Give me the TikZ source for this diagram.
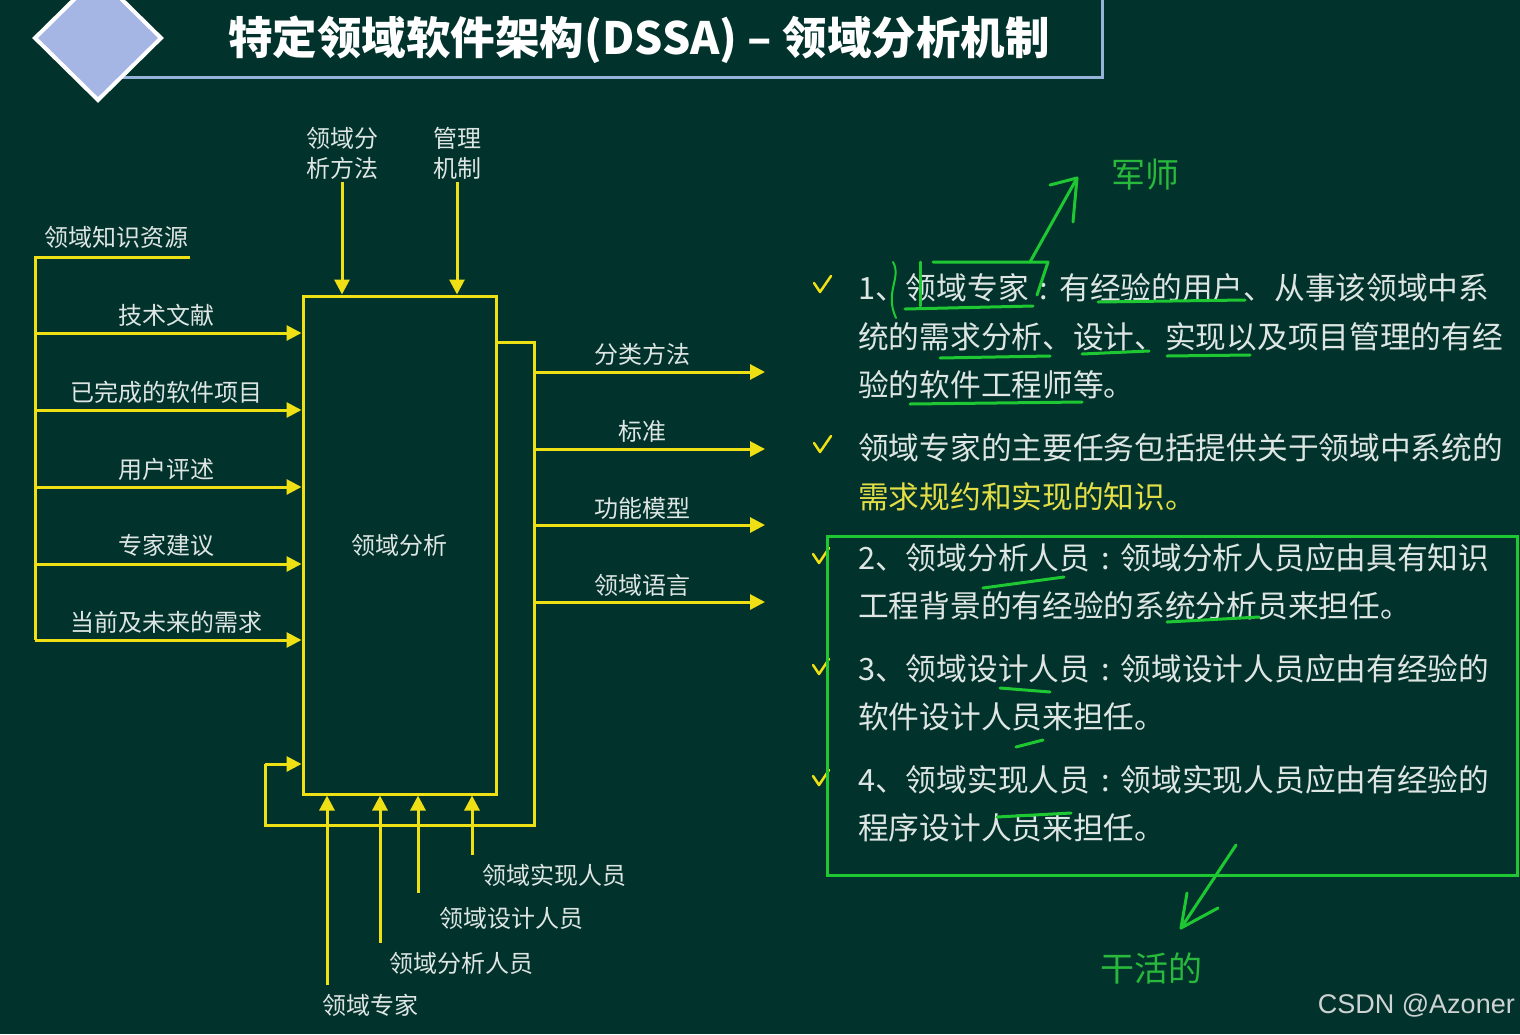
\documentclass[tikz,border=0pt]{standalone}
\usepackage{fontspec}
\newfontfamily\cjk{Noto Sans CJK SC}
\newfontfamily\wmfont{Liberation Sans}
\usetikzlibrary{arrows.meta}
\definecolor{bg}{RGB}{2,50,44}
\definecolor{ylw}{RGB}{238,224,20}
\definecolor{lbl}{RGB}{222,230,228}
\definecolor{grn}{RGB}{30,200,50}
\definecolor{grntxt}{RGB}{40,185,60}
\definecolor{dia}{RGB}{165,182,228}
\definecolor{ban}{RGB}{150,180,215}
\definecolor{hl}{RGB}{228,222,70}
\definecolor{wm}{RGB}{205,210,210}
\newcommand{\cc}{\makebox[1em]{:}}
\tikzset{
  flow/.style={ylw, line width=3pt, -{Triangle[length=15pt,width=15pt]}},
  wire/.style={ylw, line width=3pt},
  lab/.style={text=lbl, font=\cjk\fontsize{24}{30}\selectfont, inner sep=0pt},
  body/.style={text=lbl, font=\cjk\fontsize{30.7}{36}\selectfont, anchor=west, inner sep=0pt},
  pen/.style={grn, line width=3pt, line cap=round, line join=round},
  tick/.style={ylw, line width=2.5pt, line cap=round, line join=round},
  note/.style={text=grntxt, font=\cjk\fontsize{34}{40}\selectfont, inner sep=0pt}
}
\begin{document}
\begin{tikzpicture}[x=1pt,y=-1pt]
\useasboundingbox (0,0) rectangle (1520,1034);
\clip (0,0) rectangle (1520,1034);
\fill[bg] (0,0) rectangle (1520,1034);

% title banner
\draw[ban, line width=3pt] (110,-10) rectangle (1102,77);
\filldraw[fill=dia, draw=white, line width=4pt, line join=miter] (35,38) -- (98,-24) -- (161,38) -- (98,100) -- cycle;
\node[text=white, font=\cjk\bfseries\fontsize{44.5}{50}\selectfont, inner sep=0pt] (title) at (639,40) {特定领域软件架构(DSSA) – 领域分析机制};

% main box
\node[draw=ylw, line width=3pt, minimum width=193pt, minimum height=498pt, inner sep=0pt, text=lbl, font=\cjk\fontsize{24}{30}\selectfont] (box) at (399.5,545) {领域分析};

% top controls
\node[lab, align=center] (m1) at (342,153) {领域分\\析方法};
\node[lab, align=center] (m2) at (457,153) {管理\\机制};
\coordinate (m1s) at (342,182);
\coordinate (m2s) at (457,182);
\draw[flow] (m1s) -- (m1s |- box.north);
\draw[flow] (m2s) -- (m2s |- box.north);

% left inputs
\node[lab] (k0) at (116,237) {领域知识资源};
\coordinate (s0) at (190,257);
\coordinate (s1) at (35,257);
\coordinate (s2) at (35,640);
\draw[wire] (s0) -- (s1) -- (s2);
\node[lab] (k1) at (166,315) {技术文献};
\node[lab] (k2) at (166,392) {已完成的软件项目};
\node[lab] (k3) at (166,469) {用户评述};
\node[lab] (k4) at (166,545) {专家建议};
\node[lab] (k5) at (166,622) {当前及未来的需求};
\coordinate (i1) at (35,333);
\coordinate (i2) at (35,410);
\coordinate (i3) at (35,487);
\coordinate (i4) at (35,564);
\coordinate (i5) at (35,640);
\foreach \c in {i1,i2,i3,i4,i5} \draw[flow] (\c) -- (\c -| box.west);

% outputs and feedback
\coordinate (f0) at (496,342);
\coordinate (f1) at (534,342);
\coordinate (f2) at (534,825);
\coordinate (f3) at (265,825);
\coordinate (f4) at (265,764);
\draw[wire] (f0 -| box.east) -- (f1) -- (f2) -- (f3) -- (f4);
\draw[flow] (f4) -- (f4 -| box.west);

\node[lab] (o1l) at (642,354) {分类方法};
\node[lab] (o2l) at (642,431) {标准};
\node[lab] (o3l) at (642,508) {功能模型};
\node[lab] (o4l) at (642,585) {领域语言};
\coordinate (o1) at (534,372); \coordinate (e1) at (765,372);
\coordinate (o2) at (534,449); \coordinate (e2) at (765,449);
\coordinate (o3) at (534,525); \coordinate (e3) at (765,525);
\coordinate (o4) at (534,602); \coordinate (e4) at (765,602);
\draw[flow] (o1) -- (e1);
\draw[flow] (o2) -- (e2);
\draw[flow] (o3) -- (e3);
\draw[flow] (o4) -- (e4);

% bottom mechanisms
\node[lab] (p1) at (370,1005) {领域专家};
\node[lab] (p2) at (461,963) {领域分析人员};
\node[lab] (p3) at (511,918) {领域设计人员};
\node[lab] (p4) at (554,875) {领域实现人员};
\coordinate (b1) at (327,985);
\coordinate (b2) at (380,943);
\coordinate (b3) at (418,893);
\coordinate (b4) at (472,855);
\foreach \c in {b1,b2,b3,b4} \draw[flow] (\c) -- (\c |- box.south);

% right-hand text
\draw[tick] (814,283) -- (820,292) -- (831,276);
\draw[tick] (814,443) -- (820,452) -- (831,436);
\draw[tick] (813,554) -- (819,563) -- (829,548);
\draw[tick] (813,665) -- (819,674) -- (829,659);
\draw[tick] (813,776) -- (819,785) -- (829,770);

\node[body] (t1) at (858,288) {1、领域专家\cc 有经验的用户、从事该领域中系};
\node[body] (t2) at (858,337) {统的需求分析、设计、实现以及项目管理的有经};
\node[body] (t3) at (858,385) {验的软件工程师等。};
\node[body] (t4) at (858,448) {领域专家的主要任务包括提供关于领域中系统的};
\node[body, text=hl] (t5) at (858,497) {需求规约和实现的知识。};
\node[body] (t6) at (858,558) {2、领域分析人员\cc 领域分析人员应由具有知识};
\node[body] (t7) at (858,606) {工程背景的有经验的系统分析员来担任。};
\node[body] (t8) at (858,669) {3、领域设计人员\cc 领域设计人员应由有经验的};
\node[body] (t9) at (858,717) {软件设计人员来担任。};
\node[body] (t10) at (858,780) {4、领域实现人员\cc 领域实现人员应由有经验的};
\node[body] (t11) at (858,828) {程序设计人员来担任。};

% green box
\draw[grn, line width=3pt] (827,536) rectangle (1517,875);

% green hand annotations
\node[note] (js) at (1145,175) {军师};
\node[note] (gh) at (1151,968) {干活的};
\coordinate (a1) at (1030,262);
\coordinate (a1t) at (1077,178);
\draw[pen] (a1) -- (a1t);
\draw[pen] (1050,185) -- (a1t) -- (1073,222);
\draw[pen] (933,262) -- (1048,262) -- (1037,295);
\draw[pen] (905,309) -- (1033,306);
\draw[pen] (920,262) -- (920,306);
\draw[pen, line width=2pt] (893,262) .. controls (902,278) and (884,292) .. (896,318);
\draw[pen] (1098,302) -- (1245,300);
\draw[pen] (940,358) -- (1050,356);
\draw[pen] (1082,354) -- (1149,351);
\draw[pen] (1167,356) -- (1250,355);
\draw[pen] (910,404) -- (1082,402);
\draw[pen] (983,588) -- (1064,577);
\draw[pen] (1167,622) -- (1259,617);
\draw[pen] (1000,688) -- (1050,692);
\draw[pen] (1016,747) -- (1043,740);
\draw[pen] (997,817) -- (1071,813);
\coordinate (a2) at (1236,845);
\coordinate (a2t) at (1181,928);
\draw[pen] (a2) -- (a2t);
\draw[pen] (1187,893) -- (a2t) -- (1218,908);

% watermark
\node[text=wm, font=\wmfont\fontsize{27}{32}\selectfont, anchor=east, inner sep=0pt] (wmk) at (1515,1006) {CSDN @Azoner};
\end{tikzpicture}
\end{document}
